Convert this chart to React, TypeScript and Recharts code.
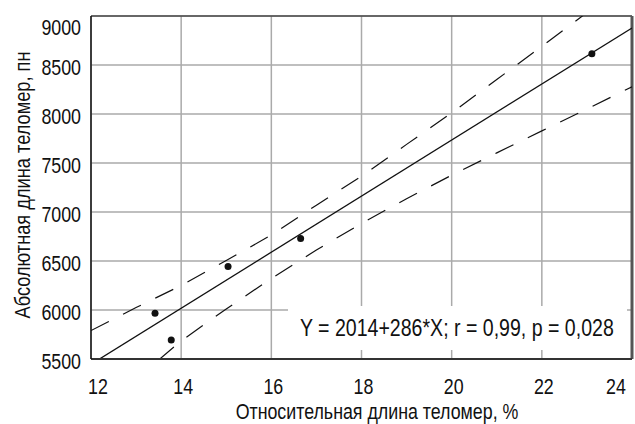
import {
  ComposedChart,
  Line,
  Scatter,
  XAxis,
  YAxis,
  CartesianGrid,
  ReferenceLine,
} from 'recharts';

// measured samples
const sampleX = [13.42, 13.78, 15.04, 16.65, 23.11];
const sampleY = [5966, 5694, 6443, 6729, 8615];

// regression line Y = 2014 + 286*X, end points
const fitX = [12, 24];
const fitY = [5446, 8878];

// 95% confidence band
const upperX = [12, 13, 14, 15, 16, 17, 18, 19, 20, 21, 22, 23, 24];
const upperY = [5790, 6025, 6250, 6505, 6765, 7070, 7365, 7690, 8012, 8352, 8690, 9035, 9380];
const lowerX = [13.5, 14, 15, 16, 17, 18, 19, 20, 21, 22, 23, 24];
const lowerY = [5490, 5685, 6011, 6322, 6612, 6884, 7136, 7376, 7603, 7828, 8050, 8278];

const xTicks = [12, 14, 16, 18, 20, 22, 24];
const yTicks = [5500, 6000, 6500, 7000, 7500, 8000, 8500, 9000];

const FONT = '"Liberation Sans", Arial, sans-serif';
const NARROW = 0.81; // the original uses a condensed face

const zip = (xs: number[], ys: number[]) => xs.map((x, i) => ({ x, y: ys[i] }));
const points = zip(sampleX, sampleY);
const fit = zip(fitX, fitY);
const upper = zip(upperX, upperY);
const lower = zip(lowerX, lowerY);

// condensed text: squeeze horizontally around the anchor point
function Narrow({ x, y, anchor = 'middle', size = 22, rotate = 0, children }: any) {
  return (
    <g transform={`translate(${x},${y}) rotate(${rotate}) scale(${NARROW},1)`}>
      <text x={0} y={0} textAnchor={anchor} fontSize={size} fontFamily={FONT} fill="#111">
        {children}
      </text>
    </g>
  );
}

const XTick = (props: any) => {
  const { x, y, payload } = props;
  let shift = 2;
  if (payload.value === 12) shift = 7;
  if (payload.value === 24) shift = -11;
  return <Narrow x={x + shift} y={y + 33}>{payload.value}</Narrow>;
};

const YTick = (props: any) => {
  const { x, y, payload } = props;
  const shift = payload.value === 9000 ? 11 : 2;
  return <Narrow x={x} y={y + shift + 8} anchor="end">{payload.value}</Narrow>;
};

const XLabel = () => <Narrow x={377} y={419} size={22}>Относительная длина теломер, %</Narrow>;
const YLabel = () => <Narrow x={30} y={185} size={22.5} rotate={-90}>Абсолютная длина теломер, пн</Narrow>;

export default function App() {
  return (
    <div style={{ position: 'absolute', left: 0, top: 0, width: 635, height: 424, background: '#fff' }}>
      <ComposedChart width={635} height={424} margin={{ top: 16, right: 3, left: 0, bottom: 0 }}>
        <CartesianGrid stroke="#aaa" strokeWidth={1.5} />
        <XAxis
          type="number"
          dataKey="x"
          domain={[12, 24]}
          ticks={xTicks}
          allowDataOverflow
          height={65}
          tick={<XTick />}
          tickLine={false}
          tickSize={0}
          axisLine={{ stroke: '#333', strokeWidth: 2 }}
          label={<XLabel />}
        />
        <YAxis
          type="number"
          dataKey="y"
          domain={[5500, 9000]}
          ticks={yTicks}
          allowDataOverflow
          width={91}
          tick={<YTick />}
          tickLine={false}
          tickSize={0}
          tickMargin={10}
          axisLine={{ stroke: '#111', strokeWidth: 1.5 }}
          label={<YLabel />}
        />
        <ReferenceLine y={9000} stroke="#111" strokeWidth={1.2} />
        <ReferenceLine x={24} stroke="#555" strokeWidth={3} />
        <Line data={upper} dataKey="y" stroke="#111" strokeWidth={1.2} strokeDasharray="20 16" dot={false} isAnimationActive={false} />
        <Line data={lower} dataKey="y" stroke="#111" strokeWidth={1.2} strokeDasharray="20 16" dot={false} isAnimationActive={false} />
        <Line data={fit} dataKey="y" stroke="#111" strokeWidth={1.3} dot={false} isAnimationActive={false} />
        <Scatter data={points} dataKey="y" fill="#111" shape={(p: any) => <circle cx={p.cx} cy={p.cy} r={3.5} fill="#111" />} isAnimationActive={false} />
      </ComposedChart>
      <div
        style={{
          position: 'absolute',
          left: 288,
          top: 306,
          width: 339,
          height: 44,
          background: '#fff',
          fontFamily: FONT,
          fontSize: 23,
          color: '#111',
          lineHeight: '44px',
          whiteSpace: 'nowrap',
        }}
      >
        <span style={{ display: 'inline-block', transform: 'scaleX(0.85)', transformOrigin: '0 50%', marginLeft: 12 }}>
          Y = 2014+286*X; r = 0,99, p = 0,028
        </span>
      </div>
    </div>
  );
}
